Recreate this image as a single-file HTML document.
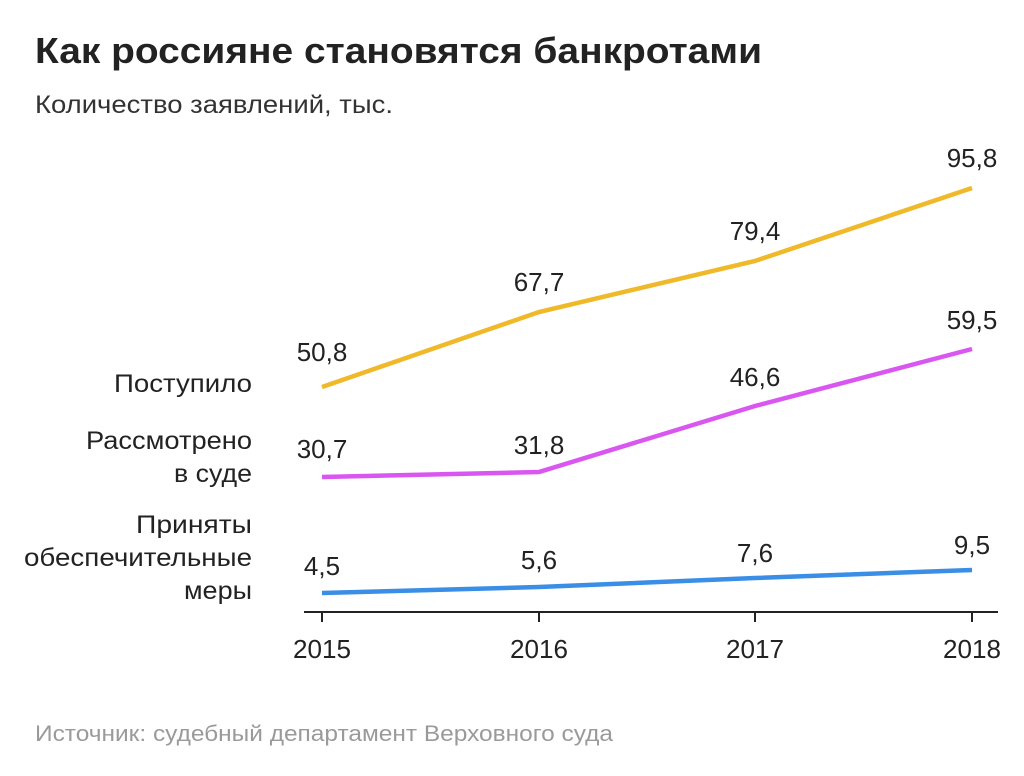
<!DOCTYPE html>
<html><head><meta charset="utf-8"><style>
html,body{margin:0;padding:0;background:#fff;}
svg{display:block;}
text{font-family:"Liberation Sans",sans-serif;}
</style></head><body>
<svg width="1024" height="776" viewBox="0 0 1024 776" fill="#222">
<text x="35" y="63" font-size="36" font-weight="bold" textLength="727" lengthAdjust="spacingAndGlyphs">Как россияне становятся банкротами</text>
<text x="35" y="113" font-size="25" textLength="358" lengthAdjust="spacingAndGlyphs" style="fill:#333">Количество заявлений, тыс.</text>

<line x1="304" y1="612" x2="998" y2="612" stroke="#222" stroke-width="2"/>
<g stroke="#222" stroke-width="2">
<line x1="322" y1="612" x2="322" y2="622"/><line x1="539" y1="612" x2="539" y2="622"/>
<line x1="755" y1="612" x2="755" y2="622"/><line x1="972" y1="612" x2="972" y2="622"/>
</g>
<g font-size="26" text-anchor="middle">
<text x="322" y="658" textLength="58" lengthAdjust="spacingAndGlyphs">2015</text>
<text x="539" y="658" textLength="58" lengthAdjust="spacingAndGlyphs">2016</text>
<text x="755" y="658" textLength="58" lengthAdjust="spacingAndGlyphs">2017</text>
<text x="972" y="658" textLength="58" lengthAdjust="spacingAndGlyphs">2018</text>
</g>

<polyline points="322,387 539,312 755,261 972,188" fill="none" stroke="#f0b92a" stroke-width="4.5"/>
<polyline points="322,477 539,472 755,406 972,349" fill="none" stroke="#d957f0" stroke-width="4.5"/>
<polyline points="322,593 539,587 755,578 972,570" fill="none" stroke="#3a8ee6" stroke-width="4.5"/>

<g font-size="26" text-anchor="middle">
<text x="322" y="361">50,8</text>
<text x="539" y="291">67,7</text>
<text x="755" y="240">79,4</text>
<text x="972" y="167">95,8</text>
<text x="322" y="458">30,7</text>
<text x="539" y="454">31,8</text>
<text x="755" y="386">46,6</text>
<text x="972" y="329">59,5</text>
<text x="322" y="575">4,5</text>
<text x="539" y="569">5,6</text>
<text x="755" y="562">7,6</text>
<text x="972" y="554">9,5</text>
</g>

<g font-size="25" text-anchor="end">
<text x="252" y="392" textLength="138" lengthAdjust="spacingAndGlyphs">Поступило</text>
<text x="252" y="449" textLength="166" lengthAdjust="spacingAndGlyphs">Рассмотрено</text>
<text x="252" y="482" textLength="78" lengthAdjust="spacingAndGlyphs">в суде</text>
<text x="252" y="533" textLength="116" lengthAdjust="spacingAndGlyphs">Приняты</text>
<text x="252" y="566" textLength="228" lengthAdjust="spacingAndGlyphs">обеспечительные</text>
<text x="252" y="599" textLength="68" lengthAdjust="spacingAndGlyphs">меры</text>
</g>

<text x="35" y="741" font-size="22" style="fill:#9a9a9a" textLength="578" lengthAdjust="spacingAndGlyphs">Источник: судебный департамент Верховного суда</text>
</svg>
</body></html>
